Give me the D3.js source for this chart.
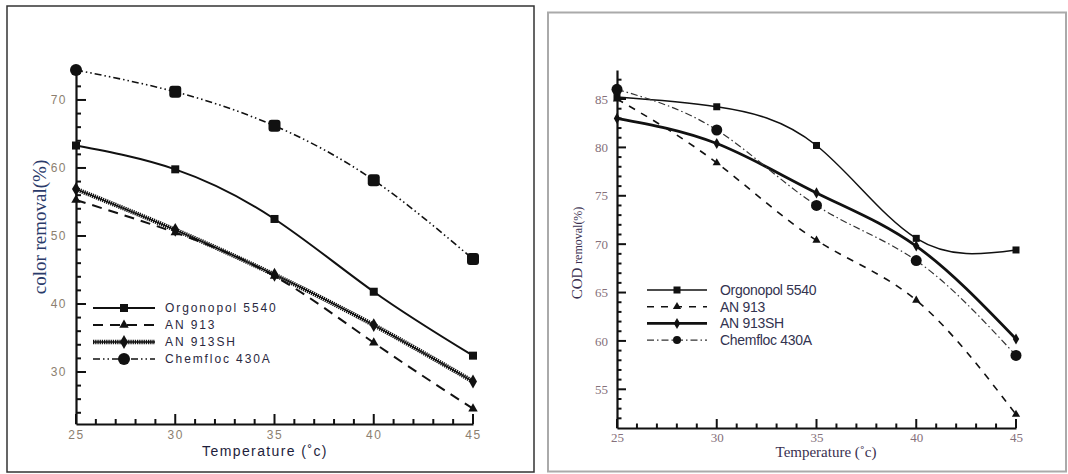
<!DOCTYPE html>
<html><head><meta charset="utf-8">
<script src="https://cdn.jsdelivr.net/npm/d3@7"></script>
<style>body{margin:0;background:#fff}svg{display:block}</style>
</head><body>
<svg id="c" width="1068" height="474"></svg>
<script>
// ---- data ----
const temps = [25, 30, 35, 40, 45];
const seriesNames = ["Orgonopol 5540", "AN 913", "AN 913SH", "Chemfloc 430A"];
const colorOrgonopol = [63.3, 59.8, 52.5, 41.8, 32.4];
const colorAN913     = [55.3, 50.5, 44.1, 34.3, 24.6];
const colorAN913SH   = [56.9, 50.9, 44.3, 36.9, 28.6];
const colorChemfloc  = [74.4, 71.2, 66.2, 58.2, 46.6];
const codOrgonopol = [85.2, 84.2, 80.2, 70.6, 69.4];
const codAN913     = [85.0, 78.4, 70.4, 64.2, 52.4];
const codAN913SH   = [83.0, 80.4, 75.3, 69.8, 60.2];
const codChemfloc  = [86.0, 81.8, 74.0, 68.3, 58.5];
const xTickLabels = [25, 30, 35, 40, 45];
const colorYTicks = [30, 40, 50, 60, 70];
const codYTicks = [55, 60, 65, 70, 75, 80, 85];

const svg = d3.select("#c");

// panel frames
svg.append("rect").attr("x", 7).attr("y", 6).attr("width", 527).attr("height", 466)
  .attr("fill", "none").attr("stroke", "#333").attr("stroke-width", 1.5);
svg.append("rect").attr("x", 548).attr("y", 12.5).attr("width", 518).attr("height", 459)
  .attr("fill", "none").attr("stroke", "#aaa").attr("stroke-width", 2);

function marker(g, type, x, y, s) {
  if (type === "square") {
    g.append("rect").attr("x", x - s/2).attr("y", y - s/2).attr("width", s).attr("height", s).attr("fill", "#111");
  } else if (type === "bigsquare") {
    g.append("rect").attr("x", x - s/2).attr("y", y - s/2).attr("width", s).attr("height", s).attr("rx", s*0.25).attr("fill", "#111");
  } else if (type === "triangle") {
    g.append("path").attr("d", d3.symbol(d3.symbolTriangle, s*s*0.6)()).attr("transform", `translate(${x},${y})`).attr("fill", "#111");
  } else if (type === "diamond") {
    g.append("path").attr("d", d3.symbol(d3.symbolDiamond, s*s*0.55)()).attr("transform", `translate(${x},${y})`).attr("fill", "#111");
  } else if (type === "circle") {
    g.append("circle").attr("cx", x).attr("cy", y).attr("r", s/2).attr("fill", "#111");
  }
}

function drawLine(g, pathD, st) {
  st.layers.forEach(l => {
    g.append("path").attr("d", pathD).attr("fill", "none").attr("stroke", l.color || "#111")
      .attr("stroke-width", l.w).attr("stroke-dasharray", l.dash || null);
  });
}

function panel(cfg) {
  const g = svg.append("g");
  const x = d3.scaleLinear().domain([25, 45]).range(cfg.xr);
  const y = d3.scaleLinear().domain(cfg.yd).range(cfg.yr);
  const y0 = cfg.yr[0], x0 = cfg.xr[0];

  // axes (domain + labels)
  const gx = g.append("g").attr("transform", `translate(0,${y0})`)
    .call(d3.axisBottom(x).tickValues(xTickLabels).tickSize(0).tickSizeOuter(0).tickPadding(cfg.xPad));
  const gy = g.append("g").attr("transform", `translate(${x0},0)`)
    .call(d3.axisLeft(y).tickValues(cfg.yTicks).tickSize(0).tickSizeOuter(0).tickPadding(cfg.yPad));
  [gx, gy].forEach(a => {
    a.selectAll("path.domain").attr("stroke", "#111").attr("stroke-width", 2.2);
    a.selectAll("text").attr("fill", cfg.tickColor).style("font-family", cfg.tickFont)
      .style("font-size", cfg.tickSize + "px").style("letter-spacing", cfg.tickLS + "px");
  });

  // tick marks (inward), drawn after the axes
  const majX = new Set(xTickLabels), majY = new Set(cfg.yTicks);
  const tickG = svg.append("g");
  tickG.selectAll("line.tx").data(d3.range(25, 46, 1)).join("line").attr("class", "tx")
    .attr("x1", d => x(d)).attr("x2", d => x(d))
    .attr("y1", y0).attr("y2", d => y0 - (majX.has(d) ? cfg.major : cfg.minor));
  tickG.selectAll("line.ty").data(cfg.minorY).join("line").attr("class", "ty")
    .attr("y1", d => y(d)).attr("y2", d => y(d))
    .attr("x1", x0).attr("x2", d => x0 + (majY.has(d) ? cfg.major : cfg.minor));
  tickG.selectAll("line").attr("stroke", "#111").attr("stroke-width", 2);

  // series
  cfg.series.forEach(s => {
    const line = d3.line().x((d, i) => x(temps[i])).y(d => y(d)).curve(d3.curveNatural);
    drawLine(g, line(s.values), s.style);
    s.values.forEach((v, i) => {
      const mt = (s.firstMarker && i === 0) ? s.firstMarker : s.marker;
      marker(g, mt, x(temps[i]), y(v), s.msize);
    });
  });

  // legend
  cfg.series.forEach((s, i) => {
    const ly = cfg.leg.y0 + i * cfg.leg.dy;
    drawLine(g, `M${cfg.leg.x0},${ly}L${cfg.leg.x1},${ly}`, s.style);
    marker(g, s.marker === "bigsquare" ? "circle" : s.marker, (cfg.leg.x0 + cfg.leg.x1) / 2, ly, s.lsize || s.msize);
    g.append("text").attr("x", cfg.leg.tx).attr("y", ly).attr("dy", "0.35em")
      .attr("fill", cfg.leg.color).style("font-family", "Arial, 'Liberation Sans', sans-serif")
      .style("font-size", cfg.leg.fs + "px").style("letter-spacing", cfg.leg.ls + "px")
      .text(seriesNames[i]);
  });

  // axis titles
  g.append("text").attr("x", cfg.xt.x).attr("y", cfg.xt.y).attr("text-anchor", "middle")
    .attr("fill", cfg.xt.color).style("font-family", cfg.xt.font).style("font-size", cfg.xt.fs + "px")
    .style("letter-spacing", cfg.xt.ls + "px").text("Temperature (˚c)");
  const yt = g.append("text").attr("transform", `translate(${cfg.yt.x},${cfg.yt.y}) rotate(-90)`)
    .attr("text-anchor", "middle").attr("fill", cfg.yt.color).style("font-family", "'Liberation Serif', 'Times New Roman', serif");
  cfg.yt.parts.forEach(p => yt.append("tspan").style("font-size", p.fs + "px").text(p.t));
}

// Left: colour removal
panel({
  xr: [76, 473], yd: [22.35, 74.7], yr: [424, 68],
  minorY: d3.range(24, 75, 2), yTicks: colorYTicks,
  major: 10, minor: 5, xPad: 6, yPad: 9,
  tickColor: "#8c7f70", tickFont: "Arial, 'Liberation Sans', sans-serif", tickSize: 12, tickLS: 1.5,
  series: [
    { values: colorOrgonopol, marker: "square", msize: 8, style: { layers: [{ w: 2 }] } },
    { values: colorAN913, marker: "triangle", msize: 8, style: { layers: [{ w: 2, dash: "10,7" }] } },
    { values: colorAN913SH, marker: "diamond", msize: 10, style: { layers: [{ w: 4.5, dash: "1.3,0.9" }, { w: 1.4 }] } },
    { values: colorChemfloc, marker: "bigsquare", firstMarker: "circle", msize: 12, style: { layers: [{ w: 1.6, dash: "7,3,1.5,3,1.5,3" }] } }
  ],
  leg: { x0: 93, x1: 155, y0: 308, dy: 17, tx: 165, fs: 12, ls: 1.9, color: "#2a2840" },
  xt: { x: 265, y: 456, fs: 14, ls: 1.4, color: "#1e1e3c", font: "Arial, 'Liberation Sans', sans-serif" },
  yt: { x: 46, y: 227, color: "#2a3a6a", parts: [{ t: "color removal(%)", fs: 19 }] }
});

// Right: COD removal
panel({
  xr: [617, 1016], yd: [51, 88], yr: [428, 70],
  minorY: d3.range(52, 88, 1), yTicks: codYTicks,
  major: 9, minor: 4.5, xPad: 5, yPad: 9,
  tickColor: "#85707a", tickFont: "'Liberation Serif', 'Times New Roman', serif", tickSize: 13, tickLS: 0,
  series: [
    { values: codOrgonopol, marker: "square", msize: 7, style: { layers: [{ w: 1.5 }] } },
    { values: codAN913, marker: "triangle", msize: 7, style: { layers: [{ w: 1.6, dash: "7,7" }] } },
    { values: codAN913SH, marker: "diamond", msize: 8, style: { layers: [{ w: 2.8 }] } },
    { values: codChemfloc, marker: "circle", msize: 11, lsize: 8, style: { layers: [{ w: 1.2, dash: "7,3,1.5,3", color: "#333" }] } }
  ],
  leg: { x0: 647, x1: 707, y0: 290, dy: 16.7, tx: 720, fs: 14, ls: -0.3, color: "#333350" },
  xt: { x: 826, y: 457, fs: 15, ls: 0, color: "#3a3050", font: "'Liberation Serif', 'Times New Roman', serif" },
  yt: { x: 582, y: 253, color: "#3a3050", parts: [{ t: "COD ", fs: 15 }, { t: "removal(%)", fs: 12 }] }
});
</script>
</body></html>
